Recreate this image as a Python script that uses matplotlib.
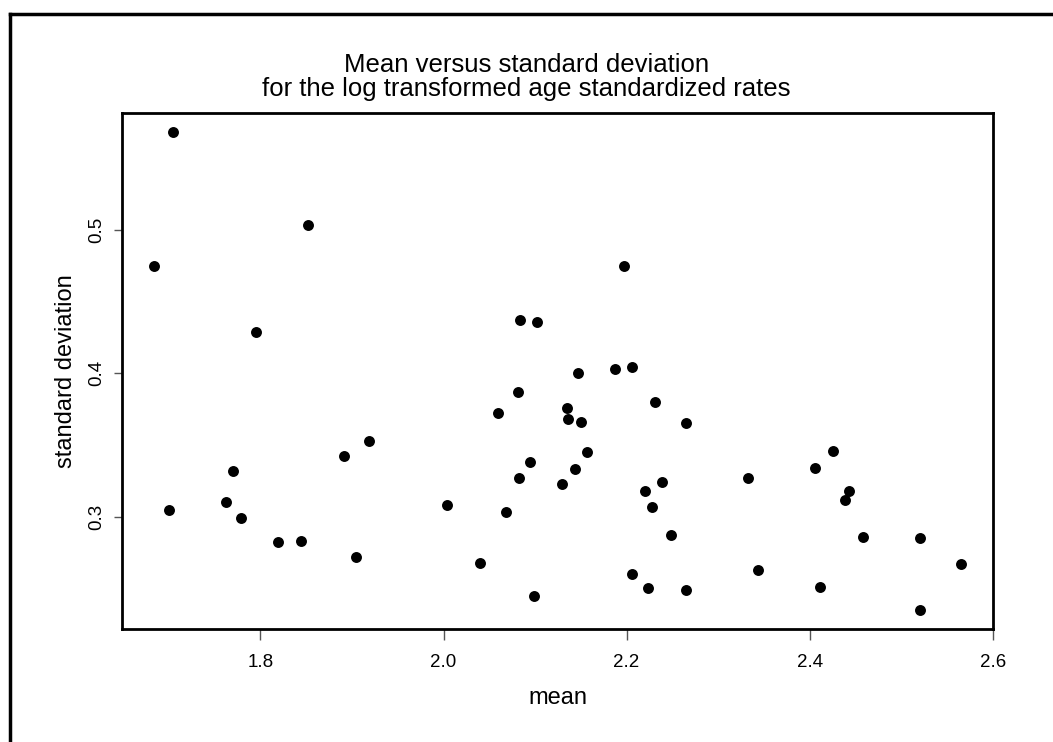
"""Mean versus standard deviation scatter (log transformed age standardized rates)"""

import numpy as np
import matplotlib
matplotlib.use("Agg")
import matplotlib.pyplot as plt
from matplotlib.lines import Line2D

# values
mean_values = [
    1.705, 1.684, 1.852, 1.795, 1.700, 1.762, 1.770, 1.779, 1.819, 1.844,
    1.891, 1.919, 1.904, 2.004, 2.197, 2.083, 2.102, 2.147, 2.187, 2.206,
    2.081, 2.059, 2.135, 2.136, 2.150, 2.231, 2.265, 2.157, 2.095, 2.082,
    2.144, 2.129, 2.220, 2.239, 2.228, 2.068, 2.249, 2.040, 2.206, 2.223,
    2.265, 2.099, 2.426, 2.406, 2.333, 2.443, 2.439, 2.458, 2.520, 2.565,
    2.343, 2.411, 2.520,
]
sd_values = [
    0.568, 0.475, 0.503, 0.429, 0.3045, 0.310, 0.3315, 0.299, 0.282, 0.283,
    0.342, 0.353, 0.272, 0.308, 0.475, 0.437, 0.436, 0.400, 0.403, 0.404,
    0.387, 0.372, 0.376, 0.368, 0.366, 0.380, 0.365, 0.345, 0.338, 0.327,
    0.333, 0.323, 0.318, 0.324, 0.307, 0.303, 0.287, 0.268, 0.260, 0.250,
    0.249, 0.2445, 0.3455, 0.334, 0.327, 0.318, 0.3115, 0.286, 0.285, 0.267,
    0.263, 0.251, 0.235,
]
x_ticks = [1.8, 2.0, 2.2, 2.4, 2.6]
y_ticks = [0.3, 0.4, 0.5]
title = "Mean versus standard deviation\nfor the log transformed age standardized rates"

plt.rcParams["font.family"] = ["Liberation Sans", "DejaVu Sans"]

W, H = 1053, 742
fig = plt.figure(figsize=(W / 100, H / 100), dpi=100)
ax = fig.add_axes([122 / W, 1 - 629 / H, (993 - 122) / W, (629 - 113) / H])

ax.scatter(mean_values, sd_values, s=62, color="black", linewidths=0)


def r_limits(values):
    """R style axis limits: data range padded by 4% on each side"""
    lo, hi = min(values), max(values)
    pad = 0.04 * (hi - lo)
    return lo - pad, hi + pad


ax.set_xlim(*r_limits(mean_values))
ax.set_ylim(*r_limits(sd_values))

ax.set_xticks(x_ticks)
ax.set_xticklabels([f"{t:.1f}" for t in x_ticks])
ax.set_yticks(y_ticks)
ax.set_yticklabels([f"{t:.1f}" for t in y_ticks], rotation=90, va="center")

ax.tick_params(axis="x", length=8, width=1, color="#555555", labelsize=13.5, pad=10)
ax.tick_params(axis="y", length=6, width=1, color="#555555", labelsize=13.5, pad=6)
for spine in ax.spines.values():
    spine.set_linewidth(2)

ax.set_xlabel("mean", fontsize=17)
ax.xaxis.set_label_coords(0.5, -0.112)
ax.set_ylabel("standard deviation", fontsize=17)
ax.yaxis.set_label_coords(-0.052, 0.5)

fig.text(0.5, 1 - 101 / H, title, ha="center", va="bottom",
         fontsize=18.5, linespacing=1.0)

# partial frame around the figure (left and top edges)
fig.add_artist(Line2D([10 / W, 10 / W], [0, 1 - 14 / H], transform=fig.transFigure,
                      color="black", linewidth=2.5))
fig.add_artist(Line2D([10 / W, 1], [1 - 14 / H, 1 - 14 / H], transform=fig.transFigure,
                      color="black", linewidth=2.5))

fig.savefig("out.png", dpi=100)
